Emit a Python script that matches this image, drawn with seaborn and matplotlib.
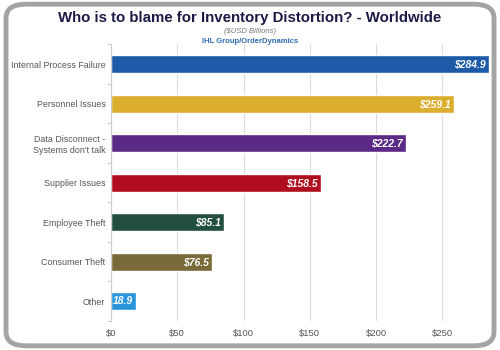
import matplotlib
matplotlib.use("Agg")
import matplotlib.pyplot as plt
import seaborn as sns
import pandas as pd
from matplotlib.patches import FancyBboxPatch

categories = ["Internal Process Failure", "Personnel Issues", "Data Disconnect -\nSystems don't talk",
              "Supplier Issues", "Employee Theft", "Consumer Theft", "Other"]
values = [284.9, 259.1, 222.7, 158.5, 85.1, 76.5, 18.9]
value_labels = ["$284.9", "$259.1", "$222.7", "$158.5", "$85.1", "$76.5", "18.9"]
colors = ["#1d5aa8", "#dcae2e", "#5b2a86", "#b00d1e", "#234f3f", "#7a6a3a", "#2b95dc"]
xticks = [0, 50, 100, 150, 200, 250]
xtick_labels = ["$0", "$50", "$100", "$150", "$200", "$250"]

sns.set_theme(style="white")
plt.rcParams['font.family'] = ['Liberation Sans', 'DejaVu Sans']

df = pd.DataFrame({"cat": categories, "val": values})

fig = plt.figure(figsize=(5, 3.5), dpi=100)
fig.patch.set_facecolor("white")

frame = FancyBboxPatch((0.012, 0.012), 0.976, 0.976, boxstyle="round,pad=0,rounding_size=0.04",
                       transform=fig.transFigure, facecolor="white", edgecolor="#a4a4a4",
                       linewidth=3.5, zorder=-10)
fig.patches.append(frame)

ax = fig.add_axes([0.222, 0.083, 0.758, 0.79])
ax.set_facecolor("none")
sns.barplot(data=df, y="cat", x="val", hue="cat", palette=colors, orient="h",
            width=0.46, legend=False, ax=ax, saturation=1)

ax.set_xlim(0, 286)
ax.set_ylim(6.5, -0.5)
ax.set_xticks(xticks)
ax.set_xticklabels(xtick_labels, fontsize=6.8, color="#555555")
ax.tick_params(axis="x", length=0, pad=6)
ax.tick_params(axis="y", length=0, pad=4, labelsize=6.4, labelcolor="#555555")
ax.set_xlabel("")
ax.set_ylabel("")
ax.grid(axis="x", color="#dddddd", linewidth=0.8)
ax.set_axisbelow(True)
for s in ["top", "right", "bottom"]:
    ax.spines[s].set_visible(False)
ax.spines["left"].set_color("#cccccc")
ax.spines["left"].set_linewidth(0.8)
ax.set_yticks([i + 0.5 for i in range(-1, 7)], minor=True)
ax.tick_params(axis="y", which="minor", length=3, color="#cccccc", width=0.8, left=True)

for i, (v, lab) in enumerate(zip(values, value_labels)):
    if i == len(values) - 1:
        ax.text(1.2, i, lab, ha="left", va="center", color="white", fontsize=7.5,
                fontstyle="italic", fontweight="bold")
    else:
        ax.text(v - 2.5, i, lab, ha="right", va="center", color="white", fontsize=7.5,
                fontstyle="italic", fontweight="bold")

fig.text(0.5, 0.949, "Who is to blame for Inventory Distortion? - Worldwide", ha="center",
         va="center", fontsize=10.8, fontweight="bold", color="#1b1b45")
fig.text(0.5, 0.91, "($USD Billions)", ha="center", va="center", fontsize=5.5,
         fontstyle="italic", color="#777777")
fig.text(0.5, 0.882, "IHL Group/OrderDynamics", ha="center", va="center", fontsize=5.5,
         fontweight="bold", color="#2e6db3")

fig.savefig("out.png", dpi=100)
